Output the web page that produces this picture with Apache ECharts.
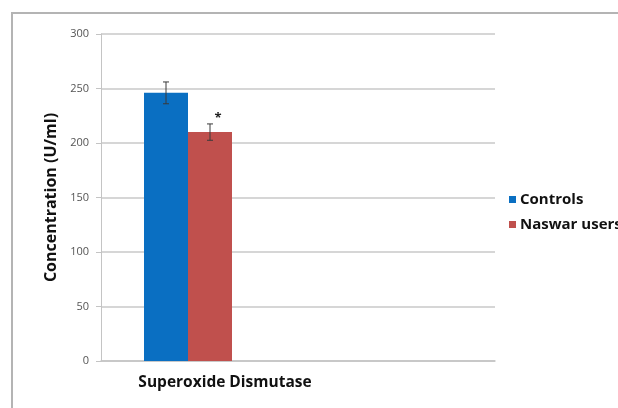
<!DOCTYPE html>
<html>
<head>
<meta charset="utf-8">
<script src="https://cdn.jsdelivr.net/npm/echarts@6/dist/echarts.min.js"></script>
<style>html,body{margin:0;padding:0;background:#fff}#c{width:618px;height:408px}</style>
</head>
<body>
<div id="c"></div>
<script>
const categories = ['Superoxide Dismutase'];
const seriesNames = ['Controls', 'Naswar users'];
const controls = [246];
const naswar = [210];
const controlsErr = [10];
const naswarErr = [7.5];
const significance = ['', '*'];
const yTicks = [0, 50, 100, 150, 200, 250, 300];

const chart = echarts.init(document.getElementById('c'), null, {renderer: 'canvas'});
const FONT = '"Open Sans", sans-serif';
const BAR_W = 44;

function errSeries(idx, vals, errs, offset, sig) {
  return {
    type: 'custom', xAxisIndex: 1, yAxisIndex: 1, z: 5,
    data: vals.map((v, i) => [i, v, errs[i]]),
    renderItem: function (params, api) {
      const x = api.value(0), v = api.value(1), e = api.value(2);
      const top = api.coord([x, v + e]);
      const bot = api.coord([x, v - e]);
      const cx = top[0] + offset;
      const children = [
        {type: 'line', shape: {x1: cx, y1: top[1], x2: cx, y2: bot[1]}, style: {stroke: '#3a3a3a', lineWidth: 1}},
        {type: 'line', shape: {x1: cx - 3, y1: top[1], x2: cx + 3, y2: top[1]}, style: {stroke: '#3a3a3a', lineWidth: 1}},
        {type: 'line', shape: {x1: cx - 3, y1: bot[1], x2: cx + 3, y2: bot[1]}, style: {stroke: '#3a3a3a', lineWidth: 1}}
      ];
      if (sig) {
        children.push({type: 'text', style: {text: sig, x: cx + 8, y: top[1] - 6, fill: '#222', font: 'bold 13px ' + FONT, align: 'center', verticalAlign: 'middle'}});
      }
      return {type: 'group', children: children};
    }
  };
}

chart.setOption({
  animation: false,
  backgroundColor: '#fff',
  graphic: [{
    type: 'rect', shape: {x: 12, y: 13, width: 700, height: 500},
    style: {fill: 'none', stroke: '#b4b4b4', lineWidth: 2}, z: -10
  }],
  grid: [
    {left: 101, right: 123, top: 34, bottom: 47},
    {left: 101, width: 174, top: 34, bottom: 47}
  ],
  legend: {
    orient: 'vertical', left: 504, top: 187, itemWidth: 7, itemHeight: 7, itemGap: 10,
    icon: 'rect', data: seriesNames,
    textStyle: {fontFamily: FONT, fontWeight: 'bold', fontSize: 15, color: '#111', padding: [0, 0, 0, -1]}
  },
  xAxis: [
    {type: 'category', gridIndex: 0, data: [''],
      axisLine: {show: true, lineStyle: {color: '#c4c4c4', width: 1.5}},
      axisTick: {show: false}, axisLabel: {show: false}},
    {type: 'category', gridIndex: 1, data: categories,
      axisLine: {show: false}, axisTick: {show: false},
      axisLabel: {fontFamily: FONT, fontWeight: 'bold', fontSize: 15.5, color: '#111', margin: 14, padding: [0, 0, 0, 74]}}
  ],
  yAxis: [
    {type: 'value', gridIndex: 0, min: 0, max: 300, interval: 50,
      axisLine: {show: true, lineStyle: {color: '#c4c4c4', width: 1}},
      axisTick: {show: true, length: 5, lineStyle: {color: '#c4c4c4'}},
      splitLine: {lineStyle: {color: '#c8c8c8', width: 1.5}},
      axisLabel: {fontFamily: FONT, fontSize: 11, color: '#555', margin: 12,
        customValues: yTicks},
      name: 'Concentration (U/ml)', nameLocation: 'middle', nameGap: 38, nameRotate: 90,
      nameTextStyle: {fontFamily: FONT, fontWeight: 'bold', fontSize: 16, color: '#111'}},
    {type: 'value', gridIndex: 1, min: 0, max: 300, interval: 50, show: false, splitLine: {show: false}}
  ],
  series: [
    {name: seriesNames[0], type: 'bar', xAxisIndex: 1, yAxisIndex: 1, data: controls,
      barWidth: BAR_W, barGap: '0%', itemStyle: {color: '#0a6fc2'}},
    {name: seriesNames[1], type: 'bar', xAxisIndex: 1, yAxisIndex: 1, data: naswar,
      barWidth: BAR_W, barGap: '0%', itemStyle: {color: '#c0504d'}},
    errSeries(0, controls, controlsErr, -BAR_W / 2, significance[0]),
    errSeries(1, naswar, naswarErr, BAR_W / 2, significance[1])
  ]
});
</script>
</body>
</html>
